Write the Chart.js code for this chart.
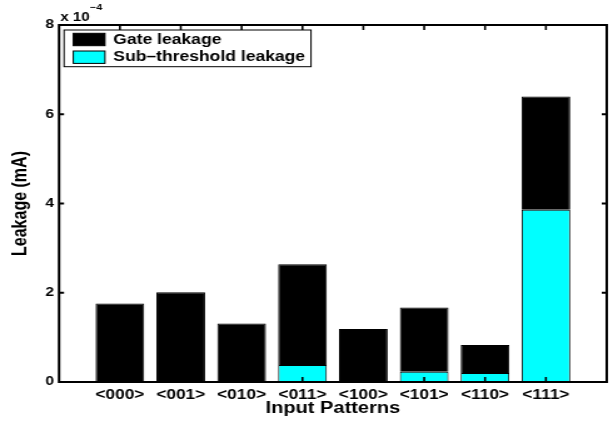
<!DOCTYPE html>
<html>
<head>
<meta charset="utf-8">
<title>Leakage by input pattern</title>
<script src="https://cdn.jsdelivr.net/npm/chart.js@4.4.1/dist/chart.umd.min.js"></script>
<style>
  html, body { margin: 0; padding: 0; background: #ffffff; }
  /* drawn at a narrower width and widened by the browser, like the original figure */
  #c { display: block; width: 613px !important; height: 423px !important; }
</style>
</head>
<body>
<canvas id="c" width="490" height="423" style="width:613px;height:423px"></canvas>
<script>
// Input patterns of the gate under test
const categories = ['<000>', '<001>', '<010>', '<011>', '<100>', '<101>', '<110>', '<111>'];
// Leakage components, in units of 1e-4 mA
const subThresholdLeakage = [0, 0, 0, 0.38, 0, 0.23, 0.20, 3.86];
const gateLeakage         = [1.76, 2.01, 1.31, 2.26, 1.19, 1.44, 0.63, 2.54];
// Y axis ticks (x 1e-4)
const yTicks = [0, 2, 4, 6, 8];
const exponent = '\u22124';

const FONT = '"Liberation Sans", Arial, Helvetica, sans-serif';
Chart.defaults.font.family = FONT;
Chart.defaults.font.weight = 'bold';
Chart.defaults.color = '#000000';

// x positions 0..9 with the patterns at 1..8 (one empty slot each side)
const axisLabels = ['', ...categories, ''];
const pad = arr => [null, ...arr, null];

const legendItems = [
  { text: 'Gate leakage', color: '#000000' },
  { text: 'Sub\u2013threshold leakage', color: '#00ffff' }
];

const framePlugin = {
  id: 'frame',
  afterDatasetsDraw(chart) {
    const { ctx, chartArea: a, scales } = chart;
    const xs = scales.x, ys = scales.y;
    ctx.save();
    ctx.strokeStyle = '#000000';

    // inward tick marks on all four sides
    ctx.lineWidth = 2;
    ctx.beginPath();
    yTicks.forEach(v => {
      const y = ys.getPixelForValue(v);
      ctx.moveTo(a.left, y); ctx.lineTo(a.left + 4, y);
      ctx.moveTo(a.right, y); ctx.lineTo(a.right - 4, y);
    });
    ctx.stroke();
    ctx.lineWidth = 1.6;
    ctx.beginPath();
    categories.forEach((c, i) => {
      const x = xs.getPixelForValue(i + 1);
      ctx.moveTo(x, a.bottom); ctx.lineTo(x, a.bottom - 5);
      ctx.moveTo(x, a.top); ctx.lineTo(x, a.top + 5);
    });
    ctx.stroke();

    // axes box
    ctx.lineWidth = 2;
    ctx.strokeRect(a.left, a.top, a.right - a.left, a.bottom - a.top);

    // legend
    const lx = a.left + 4, ly = a.top + 5;
    ctx.fillStyle = '#ffffff';
    ctx.fillRect(lx, ly, 197.4, 36.7);
    ctx.lineWidth = 1;
    ctx.strokeRect(lx, ly, 197.4, 36.7);
    ctx.font = 'bold 14px ' + FONT;
    ctx.textBaseline = 'middle';
    ctx.textAlign = 'left';
    legendItems.forEach((it, i) => {
      const sy = ly + 3.3 + i * 17.7;
      ctx.fillStyle = it.color;
      ctx.fillRect(lx + 7.4, sy, 25.3, 12.4);
      ctx.strokeStyle = '#000000';
      ctx.strokeRect(lx + 7.4, sy, 25.3, 12.4);
      ctx.fillStyle = '#000000';
      ctx.fillText(it.text, lx + 39.4, sy + 6.6);
    });

    // axis multiplier label
    ctx.textBaseline = 'alphabetic';
    ctx.font = 'bold 12px ' + FONT;
    const base = 'x 10';
    ctx.fillText(base, a.left + 1, a.top - 4.5);
    const w = ctx.measureText(base).width;
    ctx.font = 'bold 8.5px ' + FONT;
    ctx.fillText(exponent, a.left + 1.5 + w, a.top - 15);
    ctx.restore();
  }
};

new Chart(document.getElementById('c'), {
  type: 'bar',
  data: {
    labels: axisLabels,
    datasets: [
      {
        label: 'Sub\u2013threshold leakage',
        data: pad(subThresholdLeakage),
        backgroundColor: '#00ffff',
        borderColor: '#000000',
        borderWidth: 1
      },
      {
        label: 'Gate leakage',
        data: pad(gateLeakage),
        backgroundColor: '#000000',
        borderColor: '#000000',
        borderWidth: 1
      }
    ]
  },
  options: {
    responsive: false,
    animation: false,
    devicePixelRatio: 1,
    layout: { padding: { top: 25, right: 4, left: 0, bottom: 0 } },
    datasets: { bar: { categoryPercentage: 1.0, barPercentage: 0.8 } },
    plugins: { legend: { display: false }, tooltip: { enabled: false } },
    scales: {
      x: {
        stacked: true,
        offset: false,
        grid: { display: false, drawTicks: false },
        border: { display: false },
        ticks: { autoSkip: false, maxRotation: 0, padding: 5, font: { size: 13.8, weight: 'bold' } },
        title: { display: true, text: 'Input Patterns', font: { size: 16, weight: 'bold' }, padding: { top: 0, bottom: 4.8 } },
        afterFit(s) { s.height = 41; }
      },
      y: {
        stacked: true,
        min: 0,
        max: 8,
        grid: { display: false, drawTicks: false },
        border: { display: false },
        afterBuildTicks(s) { s.ticks = yTicks.map(v => ({ value: v })); },
        ticks: { padding: 4, font: { size: 12.5, weight: 'bold' } },
        title: { display: true, text: 'Leakage (mA)', font: { size: 16, weight: 'bold' }, padding: { top: 7.4, bottom: 0 } },
        afterFit(s) { s.width = 47.2; }
      }
    }
  },
  plugins: [framePlugin]
});
</script>
</body>
</html>
